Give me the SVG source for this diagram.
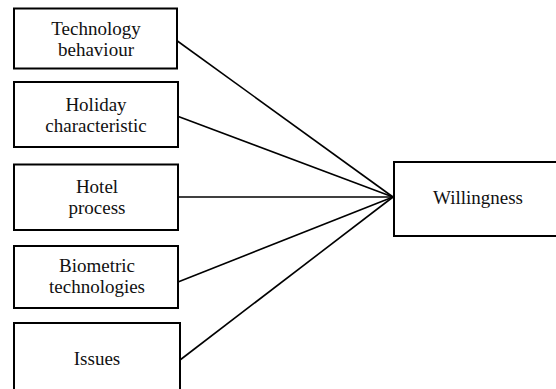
<svg xmlns="http://www.w3.org/2000/svg" width="556" height="389" viewBox="0 0 556 389">
<style>
.box{fill:#fff;stroke:#000;stroke-width:2}
.lbl{font-size:19px;fill:#111;text-anchor:middle}
.conn line{stroke:#000;stroke-width:1.6}
</style>
<rect width="556" height="389" fill="#fff"/>
<g class="conn" id="connectors">
<line x1="176" y1="40" x2="393" y2="197"/>
<line x1="177" y1="116" x2="393" y2="197"/>
<line x1="178" y1="197" x2="393" y2="197"/>
<line x1="178" y1="282" x2="393" y2="197"/>
<line x1="180" y1="360" x2="393" y2="197"/>
</g>
<g id="n1"><rect class="box" x="14" y="8.5" width="163" height="60"/><text class="lbl" font-family="'Liberation Serif', serif" x="96" y="34.5">Technology</text><text class="lbl" font-family="'Liberation Serif', serif" x="96" y="55.5">behaviour</text></g>
<g id="n2"><rect class="box" x="14" y="82" width="164" height="65"/><text class="lbl" font-family="'Liberation Serif', serif" x="96" y="111">Holiday</text><text class="lbl" font-family="'Liberation Serif', serif" x="96" y="131.5">characteristic</text></g>
<g id="n3"><rect class="box" x="14" y="164.5" width="164" height="65.5"/><text class="lbl" font-family="'Liberation Serif', serif" x="97" y="193">Hotel</text><text class="lbl" font-family="'Liberation Serif', serif" x="97" y="213.5">process</text></g>
<g id="n4"><rect class="box" x="14" y="246" width="164" height="62"/><text class="lbl" font-family="'Liberation Serif', serif" x="97" y="272">Biometric</text><text class="lbl" font-family="'Liberation Serif', serif" x="97" y="293">technologies</text></g>
<g id="n5"><rect class="box" x="14" y="323" width="166" height="80"/><text class="lbl" font-family="'Liberation Serif', serif" x="97" y="364.5">Issues</text></g>
<g id="n6"><rect class="box" x="394" y="162" width="180" height="74"/><text class="lbl" font-family="'Liberation Serif', serif" x="478" y="203.5">Willingness</text></g>
</svg>
